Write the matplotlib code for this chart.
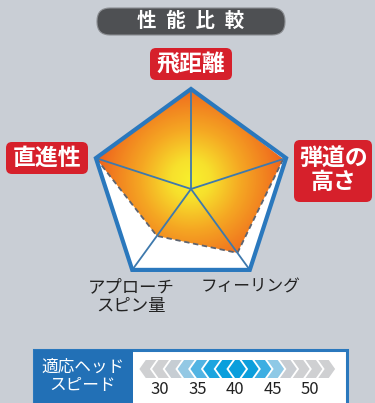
import numpy as np
import matplotlib.pyplot as plt
from matplotlib.patches import FancyBboxPatch, Polygon, Rectangle
from matplotlib.colors import LinearSegmentedColormap

plt.rcParams['font.family'] = ['Noto Sans CJK JP', 'DejaVu Sans']

# radar data (clockwise from top)
categories = ['飛距離', '弾道の\n高さ', 'フィーリング', 'アプローチ\nスピン量', '直進性']
values = [1.0, 0.97, 0.79, 0.58, 1.0]

# head speed scale
speed_ticks = [30, 35, 40, 45, 50]
speed_center = 40.3
left_colors = ['#cfd0d2', '#cfd0d2', '#c6cdd3', '#93c8e4', '#52b4e3', '#1ca5df', '#0a9fdc']
diamond_color = '#0a9edc'
right_colors = ['#0c9fdc', '#3caee2', '#8ec9e6', '#c9cdd2', '#cfd0d2', '#cfd0d2', '#cfd0d2']

BG = '#c9ced5'
RED = '#d6202b'
BLUE = '#2a78bd'

fig = plt.figure(figsize=(3.75, 4.03), dpi=100, facecolor=BG)
W, H = 375, 403

# pixel-space axes for boxes and labels
bg = fig.add_axes([0, 0, 1, 1])
bg.set_xlim(0, W)
bg.set_ylim(H, 0)
bg.axis('off')

# title pill
bg.add_patch(FancyBboxPatch((97, 8), 188, 27, boxstyle='round,pad=0,rounding_size=13',
                            fc='#4e5053', ec='#8a8d91', lw=0.8))
bg.text(191, 21.5, '性\u2002能\u2002比\u2002較', color='white', fontsize=14, fontweight='bold',
        ha='center', va='center')


def red_label(cx, cy, w, h, txt, fs=16.5):
    bg.add_patch(FancyBboxPatch((cx - w / 2, cy - h / 2), w, h,
                                boxstyle='round,pad=0,rounding_size=6', fc=RED, ec='none'))
    bg.text(cx, cy, txt, color='white', fontsize=fs, fontweight='bold',
            ha='center', va='center', linespacing=1.0)


red_label(191, 64, 82, 32, categories[0])
red_label(333, 171, 78, 62, categories[1])
red_label(47, 158, 82, 32, categories[4])
bg.text(250, 287, categories[2], color='#222222', fontsize=12, ha='center', va='center')
bg.text(131, 297, categories[3], color='#222222', fontsize=12.5, ha='center', va='center',
        linespacing=1.05)

# radar axes: centre (191,189), radius 100 px
cx, cy, R = 191, 189, 100
rad = fig.add_axes([(cx - R) / W, 1 - (cy + R) / H, 2 * R / W, 2 * R / H])
rad.set_xlim(-1, 1)
rad.set_ylim(-1, 1)
rad.axis('off')

n = len(categories)
ang = np.deg2rad(90 - 72 * np.arange(n))
ox, oy = np.cos(ang), np.sin(ang)
vals = np.array(values)
dx, dy = vals * ox, vals * oy

rad.add_patch(Polygon(np.c_[ox, oy], closed=True, fc='white', ec='none', zorder=1))

gx, gy = np.meshgrid(np.linspace(-1, 1, 300), np.linspace(-1, 1, 300))
r = np.hypot(gx, gy - 0.1)
cmap = LinearSegmentedColormap.from_list('g', [(0, '#f7f02c'), (0.2, '#f7e02c'),
                                               (0.5, '#f5a823'), (0.8, '#f17a1f'),
                                               (1.0, '#ec5a1b')])
im = rad.imshow(r, extent=(-1, 1, -1, 1), origin='lower', cmap=cmap, vmin=0, vmax=1.0,
                zorder=2)
clip = Polygon(np.c_[dx, dy], closed=True, fc='none', ec='none', transform=rad.transData)
rad.add_patch(clip)
im.set_clip_path(clip)

# dashed lower edges of data polygon
idx = [1, 2, 3, 4]
rad.plot(dx[idx], dy[idx], color='#5e6470', lw=1.3, ls=(0, (3, 2)), zorder=3)

for i in range(n):
    rad.plot([0, ox[i]], [0, oy[i]], color='#3e79ad', lw=1.3, zorder=4)
rad.add_patch(Polygon(np.c_[ox, oy], closed=True, fc='none', ec=BLUE, lw=3,
                      joinstyle='miter', zorder=5, clip_on=False))

# head speed box
bg.add_patch(Rectangle((34, 350), 313, 55, fc='white', ec=BLUE, lw=2.2))
bg.add_patch(Rectangle((34, 350), 99, 55, fc='#2270b6', ec='none'))
bg.text(83, 376, '適応ヘッド\nスピード', color='white', fontsize=12, ha='center',
        va='center', linespacing=1.1)

sp = fig.add_axes([135 / W, 0, (345 - 135) / W, (403 - 352) / H])
px_per = 7.5
sp.set_xlim(30 - (160 - 135) / px_per, 30 + (345 - 160) / px_per)
sp.set_ylim(403, 352)
sp.axis('off')

yc, top, bot = 369, 360, 378
t, d, gap = 1.4, 0.85, 0.3
hw = 1.15
p = t + gap


def chevron(x0, sign, col):
    pts = [(x0, yc), (x0 + sign * d, top), (x0 + sign * (d + t), top),
           (x0 + sign * t, yc), (x0 + sign * (d + t), bot), (x0 + sign * d, bot)]
    sp.add_patch(Polygon(pts, closed=True, fc=col, ec='none'))


last_left = speed_center - hw - gap - t
for i, c in enumerate(left_colors):
    chevron(last_left - (len(left_colors) - 1 - i) * p, 1, c)
first_right = speed_center + hw + gap + t
for i, c in enumerate(right_colors):
    chevron(first_right + i * p, -1, c)
sp.add_patch(Polygon([(speed_center - hw, yc), (speed_center - hw + d, top),
                      (speed_center + hw - d, top), (speed_center + hw, yc),
                      (speed_center + hw - d, bot), (speed_center - hw + d, bot)],
                     closed=True, fc=diamond_color, ec='none'))
for s in speed_ticks:
    sp.text(s, 390, str(s), fontsize=12, color='#222222', ha='center', va='center')

fig.savefig('out.png', dpi=100, facecolor=BG)
